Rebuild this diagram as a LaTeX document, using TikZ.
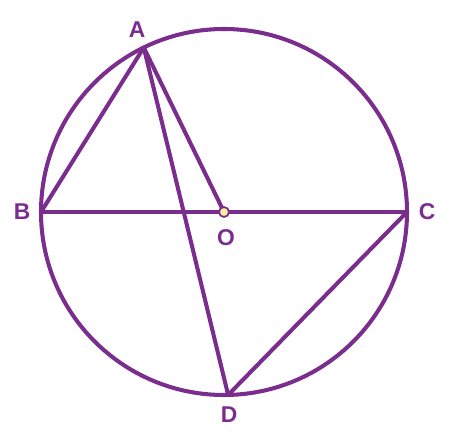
\documentclass[tikz,border=0pt]{standalone}
\usepackage{fontspec}
\setmainfont{Liberation Sans}
\definecolor{grape}{HTML}{7B2D8E}
\definecolor{dotfill}{HTML}{FBEFA0}
\tikzset{
  chord/.style={draw=grape, line width=2.3pt, line join=round},
  lbl/.style={text=grape, font=\fontsize{13}{15}\selectfont\bfseries}
}
\begin{document}
\begin{tikzpicture}[x=0.02cm, y=-0.02cm]
      \useasboundingbox (0,0) rectangle (450,442);
      \coordinate (O) at (224,212);
      \draw[chord] (O) circle [radius=183];
      \path
        (O) ++(-116:183) coordinate (A)
        (O) ++(180:183) coordinate (B)
        (O) ++(0:183) coordinate (C)
        (O) ++(88.7:183) coordinate (D);
      \begin{scope}[chord]
        \draw (B) to (C);
        \draw (B) to (A);
        \draw (A) to (O);
        \draw (A) to (D);
        \draw (D) to (C);
      \end{scope}
      \filldraw[fill=dotfill, draw=grape, line width=1pt] (O) circle [radius=5];
      \node[lbl] (la) at (137,30) {A};
      \node[lbl] (lb) at (22,212) {B};
      \node[lbl] (lc) at (427,212) {C};
      \node[lbl] (lo) at (226,238) {O};
      \node[lbl] (ld) at (229,415) {D};
    \end{tikzpicture}
\end{document}
